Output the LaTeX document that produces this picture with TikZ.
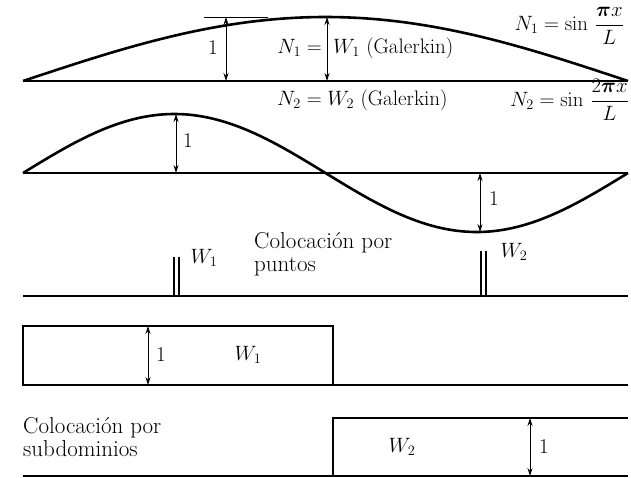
\documentclass[tikz,border=0pt]{standalone}
\usepackage{amsmath}
\usetikzlibrary{arrows.meta}
\begin{document}
\begin{tikzpicture}[x=1pt,y=-1pt,
  curve/.style={line width=2.6pt,line join=round},
  base/.style={line width=1.4pt},
  dim/.style={line width=0.8pt,{Stealth[length=8pt,width=5pt]}-{Stealth[length=8pt,width=5pt]}},
  lbl/.style={font=\fontsize{21}{24}\selectfont,inner sep=0pt},
  big/.style={font=\fontsize{23}{23}\selectfont,inner sep=0pt},
  boxline/.style={line width=1.8pt}]
\useasboundingbox (0,0) rectangle (631,477);
% ---------- row 1 ----------
\coordinate (b1l) at (23,81); \coordinate (b1r) at (628,81);
\draw[base] (b1l) -- (b1r);
\draw[curve] plot[domain=23:628,samples=120] ({\x},{81-64*sin((\x-23)*0.297521)});
\coordinate (t1a) at (204,17); \coordinate (t1b) at (268,17);
\draw[line width=0.8pt] (t1a) -- (t1b);
\coordinate (a1t) at (226,17); \coordinate (a1b) at (226,81);
\draw[dim] (a1t) -- (a1b);
\node[lbl] (one1) at (213,48) {1};
\coordinate (a2t) at (327,17); \coordinate (a2b) at (327,81);
\draw[dim] (a2t) -- (a2b);
\node[lbl,anchor=east] (n1l) at (322,48) {$N_1 =$};
\node[lbl,anchor=west] (w1g) at (333,48) {$W_1$ (Galerkin)};
\node[lbl,anchor=east] (n1s) at (624,26) {$N_1 = \sin\,\dfrac{\boldsymbol{\pi} x}{L}$};
% ---------- row 2 ----------
\coordinate (b2l) at (23,173); \coordinate (b2r) at (628,173);
\draw[base] (b2l) -- (b2r);
\draw[curve] plot[domain=23:628,samples=160] ({\x},{173-59*sin((\x-23)*0.595041)});
\coordinate (a3t) at (176,114); \coordinate (a3b) at (176,173);
\draw[dim] (a3t) -- (a3b);
\node[lbl] (one2) at (188,141) {1};
\coordinate (a4t) at (480,173); \coordinate (a4b) at (480,232);
\draw[dim] (a4t) -- (a4b);
\node[lbl] (one3) at (494,199) {1};
\node[lbl,anchor=west] (n2g) at (277,100) {$N_2 = W_2$ (Galerkin)};
\node[lbl,anchor=east] (n2s) at (629,100) {$N_2 = \sin\,\dfrac{2\boldsymbol{\pi} x}{L}$};
% ---------- row 3 ----------
\coordinate (b3l) at (23,296); \coordinate (b3r) at (628,296);
\draw[base] (b3l) -- (b3r);
\coordinate (d1a) at (174,257); \coordinate (d1b) at (174,296);
\coordinate (d2a) at (179,257); \coordinate (d2b) at (179,296);
\coordinate (d3a) at (481,251); \coordinate (d3b) at (481,296);
\coordinate (d4a) at (486,251); \coordinate (d4b) at (486,296);
\draw[line width=1.4pt] (d1a) -- (d1b) (d2a) -- (d2b) (d3a) -- (d3b) (d4a) -- (d4b);
\node[lbl] (w1p) at (204,258) {$W_1$};
\node[lbl] (w2p) at (514,252) {$W_2$};
\node[big,anchor=west,align=left] (cp) at (254,254) {Colocación por\\puntos};
% ---------- row 4 ----------
\coordinate (r1a) at (23,385); \coordinate (r1b) at (23,326);
\coordinate (r1c) at (333,326); \coordinate (r1d) at (333,385);
\coordinate (r1e) at (628,385);
\draw[boxline,line join=miter] (r1c) -- (r1b) -- (r1a) -- (r1d) -- cycle;
\draw[base] (r1d) -- (r1e);
\coordinate (a5t) at (148,326); \coordinate (a5b) at (148,385);
\draw[dim] (a5t) -- (a5b);
\node[lbl] (one4) at (161,355) {1};
\node[lbl] (w1s) at (248,355) {$W_1$};
% ---------- row 5 ----------
\coordinate (b5l) at (23,476); \coordinate (b5r) at (628,476);
\coordinate (r2a) at (333,476); \coordinate (r2b) at (333,418); \coordinate (r2c) at (628,418);
\draw[base] (b5l) -- (b5r);
\draw[boxline,line join=miter] (r2a) -- (r2b) -- (r2c);
\coordinate (a6t) at (530,418); \coordinate (a6b) at (530,476);
\draw[dim] (a6t) -- (a6b);
\node[lbl] (one5) at (544,447) {1};
\node[lbl] (w2s) at (402,447) {$W_2$};
\node[big,anchor=west,align=left] (cs) at (23,437) {Colocación por\\subdominios};
\end{tikzpicture}
\end{document}
